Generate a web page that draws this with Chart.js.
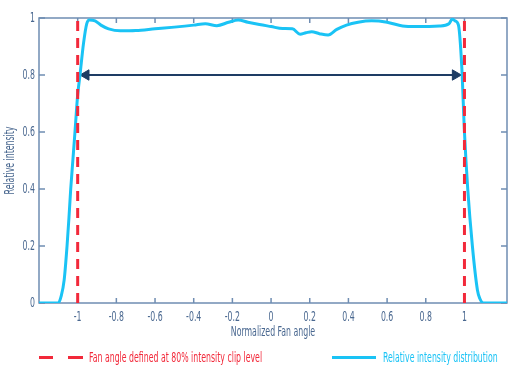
<!DOCTYPE html>
<html>
<head>
<meta charset="utf-8">
<script src="https://cdn.jsdelivr.net/npm/chart.js@4"></script>
<style>
  html, body { margin: 0; padding: 0; background: #fff; }
  #wrap { position: relative; width: 519px; height: 377px; }
  #legend { position: absolute; left: 0; top: 0; width: 519px; height: 377px; pointer-events: none;
    font-family: "DejaVu Sans Condensed", "DejaVu Sans", sans-serif; font-size: 14px; }
  .sw { position: absolute; height: 3px; }
  .lt { position: absolute; white-space: nowrap; line-height: 16px; transform: scaleX(0.62); transform-origin: left center; }
</style>
</head>
<body>
<div id="wrap">
  <canvas id="chart" width="519" height="377"></canvas>
  <div id="legend">
    <div class="sw" style="left:39px; top:356px; width:14px; background:#f2293a"></div>
    <div class="sw" style="left:68px; top:356px; width:15px; background:#f2293a"></div>
    <div class="lt" style="left:89px; top:349px; color:#f2293a">Fan angle defined at 80% intensity clip level</div>
    <div class="sw" style="left:332px; top:356px; width:44px; background:#1ac3f5"></div>
    <div class="lt" style="left:383px; top:349px; color:#1ac3f5">Relative intensity distribution</div>
  </div>
</div>
<script>
// measured profile (normalized fan angle -> relative intensity)
const angle = [-1.2, -1.1, -1.085, -1.07, -1.055, -1.045, -1.036, -1.025, -1.014, -1.0, -0.988, -0.97, -0.953, -0.94,
  -0.91, -0.88, -0.84, -0.78, -0.7, -0.6, -0.5, -0.4, -0.34, -0.28, -0.22, -0.17, -0.12, -0.06, 0.0, 0.06, 0.11,
  0.15, 0.18, 0.21, 0.25, 0.295, 0.34, 0.39, 0.45, 0.52, 0.6, 0.68, 0.75, 0.87, 0.92, 0.937, 0.952, 0.969, 0.986,
  1.0, 1.017, 1.041, 1.067, 1.08, 1.098, 1.22];
const intensity = [0, 0, 0.025, 0.08, 0.2, 0.3, 0.4, 0.5, 0.6, 0.73, 0.8, 0.91, 0.98, 0.993,
  0.99, 0.975, 0.962, 0.955, 0.956, 0.962, 0.968, 0.975, 0.98, 0.973, 0.985, 0.993, 0.985, 0.977, 0.97, 0.963, 0.962,
  0.943, 0.948, 0.952, 0.945, 0.94, 0.96, 0.975, 0.985, 0.99, 0.985, 0.972, 0.97, 0.972, 0.98, 0.996, 0.99, 0.975, 0.83,
  0.6, 0.4, 0.2, 0.046, 0.015, 0, 0];

const clipLevel = 0.8;
const clipAngles = [-1, 1];
const arrowEnds = [-0.957, 0.953];
const xTicks = [-1, -0.8, -0.6, -0.4, -0.2, 0, 0.2, 0.4, 0.6, 0.8, 1];

const axisText = '#4a6890';
const frameColor = '#6f8db2';
const font = { family: '"DejaVu Sans Condensed", "DejaVu Sans", sans-serif', size: 14 };
const textScale = 0.62; // the original uses a narrow DIN-like face

const toPts = (xs, ys) => xs.map((x, i) => ({ x: x, y: ys[i] }));

// squeeze canvas text horizontally to mimic the narrow font
const condense = {
  id: 'condense',
  beforeInit(chart) {
    const ctx = chart.ctx;
    const fill = ctx.fillText.bind(ctx);
    ctx.fillText = (text, x, y, maxWidth) => {
      ctx.save();
      ctx.translate(x, y);
      ctx.scale(textScale, 1);
      fill(text, 0, 0);
      ctx.restore();
    };
  }
};

// frame + inward tick marks
const framePlugin = {
  id: 'frame',
  beforeDatasetsDraw(chart) {
    const { ctx, chartArea: a, scales } = chart;
    ctx.save();
    ctx.strokeStyle = frameColor;
    ctx.lineWidth = 1.5;
    ctx.strokeRect(a.left, a.top, a.right - a.left, a.bottom - a.top);
    ctx.beginPath();
    xTicks.forEach(v => {
      const px = scales.x.getPixelForValue(v);
      ctx.moveTo(px, a.bottom); ctx.lineTo(px, a.bottom - 5);
      ctx.moveTo(px, a.top); ctx.lineTo(px, a.top + 5);
    });
    scales.y.ticks.forEach(t => {
      const py = scales.y.getPixelForValue(t.value);
      ctx.moveTo(a.left, py); ctx.lineTo(a.left + 6, py);
      ctx.moveTo(a.right, py); ctx.lineTo(a.right - 6, py);
    });
    ctx.stroke();
    ctx.restore();
  }
};

new Chart(document.getElementById('chart'), {
  type: 'line',
  data: {
    datasets: [
      {
        label: 'Fan angle defined at 80% intensity clip level',
        data: toPts([clipAngles[0], clipAngles[0]], [0, 1]),
        borderColor: '#f2293a', borderWidth: 3, borderDash: [10, 7], pointRadius: 0
      },
      {
        label: 'Fan angle defined at 80% intensity clip level',
        data: toPts([clipAngles[1], clipAngles[1]], [0, 1]),
        borderColor: '#f2293a', borderWidth: 3, borderDash: [10, 7], pointRadius: 0
      },
      {
        label: 'Relative intensity distribution',
        data: toPts(angle, intensity),
        borderColor: '#1ac3f5', borderWidth: 3, pointRadius: 0,
        cubicInterpolationMode: 'monotone'
      },
      {
        label: 'arrow',
        data: toPts(arrowEnds, [clipLevel, clipLevel]),
        borderColor: '#1e3c64', backgroundColor: '#1e3c64', borderWidth: 2,
        pointStyle: 'triangle', pointRadius: 6, pointRotation: [-90, 90],
        pointBackgroundColor: '#1e3c64', pointBorderColor: '#1e3c64', pointBorderWidth: 1
      }
    ]
  },
  options: {
    responsive: false,
    animation: false,
    layout: { padding: { top: 18, right: 12, bottom: 30, left: 0 } },
    plugins: { legend: { display: false }, tooltip: { enabled: false } },
    scales: {
      x: {
        type: 'linear', min: -1.2, max: 1.22,
        grid: { display: false, drawTicks: false },
        border: { display: false },
        afterBuildTicks: s => { s.ticks = xTicks.map(v => ({ value: v })); },
        ticks: { color: axisText, font: font, padding: 6, maxRotation: 0,
          callback: v => String(+v.toFixed(1)) },
        title: { display: true, text: 'Normalized Fan angle', color: axisText, font: font, padding: { top: 2, bottom: 6 } },
        afterFit: s => { s.height = 44; }
      },
      y: {
        min: 0, max: 1,
        grid: { display: false, drawTicks: false },
        border: { display: false },
        ticks: { stepSize: 0.2, color: axisText, font: font, padding: 4,
          callback: v => String(+v.toFixed(1)) },
        title: { display: true, text: 'Relative intensity', color: axisText, font: font, padding: { top: 2, bottom: 2 } },
        afterFit: s => { s.width = 39; }
      }
    }
  },
  plugins: [condense, framePlugin]
});
</script>
</body>
</html>
